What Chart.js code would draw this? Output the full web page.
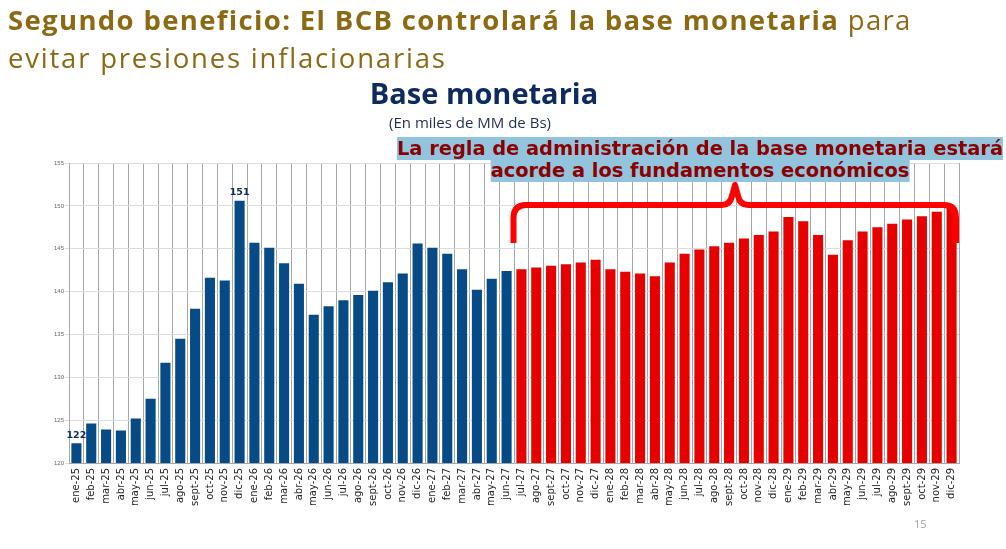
<!DOCTYPE html>
<html>
<head>
<meta charset="utf-8">
<script src="https://cdn.jsdelivr.net/npm/chart.js@4/dist/chart.umd.min.js"></script>
<style>
  html,body{margin:0;padding:0;background:#fff;}
  #wrap{position:relative;width:1006px;height:549px;overflow:hidden;background:#fff;}
  #cv{position:absolute;left:0;top:0;}
  .t{position:absolute;white-space:nowrap;}
  #h1{left:8px;top:0px;font-family:"Open Sans",sans-serif;font-size:27.5px;line-height:40px;letter-spacing:1.35px;color:#8c6a14;}
  #h1 b{font-weight:700;}
  #h2{left:8px;top:38px;font-family:"Open Sans",sans-serif;font-size:27.5px;line-height:40px;letter-spacing:1.8px;color:#8c6a14;}
  #ct{left:484px;top:73px;transform:translateX(-50%);font-family:"Open Sans",sans-serif;font-weight:700;font-size:29px;line-height:40px;color:#0d2b5e;}
  #cs{left:470px;top:112px;transform:translateX(-50%);font-family:"Open Sans",sans-serif;font-size:15px;line-height:20px;color:#1f2f4f;}
  .an{left:700px;transform:translateX(-50%);font-family:"DejaVu Sans",sans-serif;font-weight:700;font-size:19.4px;line-height:22px;color:#8b0000;}
  .an span{background:#92c4de;}
  #a1{top:138px;}
  #a2{top:160px;}
  #pg{left:914px;top:516px;font-family:"Open Sans",sans-serif;font-size:11px;color:#a0a0a0;}
  #br{position:absolute;left:0;top:0;pointer-events:none;}
</style>
</head>
<body>
<div id="wrap">
  <canvas id="cv" width="1006" height="549"></canvas>
  <div class="t" id="h1"><b>Segundo beneficio: El BCB controlará la base monetaria</b> para</div>
  <div class="t" id="h2">evitar presiones inflacionarias</div>
  <div class="t" id="ct">Base monetaria</div>
  <div class="t" id="cs">(En miles de MM de Bs)</div>
  <div class="t an" id="a1"><span>La regla de administración de la base monetaria estará</span></div>
  <div class="t an" id="a2"><span>acorde a los fundamentos económicos</span></div>
  <svg id="br" width="1006" height="549">
    <path d="M513.5,243 L513.5,218 Q513.5,205 526,205 L722,205 Q730,205 732,196 L735,185 L738,196 Q740,205 748,205 L944,205 Q956,205 956,218 L956,243"
          fill="none" stroke="#ff0000" stroke-width="6" stroke-linejoin="round"/>
  </svg>
  <div class="t" id="pg">15</div>
</div>
<script>
const categories = [
  "ene-25","feb-25","mar-25","abr-25","may-25","jun-25","jul-25","ago-25","sept-25","oct-25","nov-25","dic-25",
  "ene-26","feb-26","mar-26","abr-26","may-26","jun-26","jul-26","ago-26","sept-26","oct-26","nov-26","dic-26",
  "ene-27","feb-27","mar-27","abr-27","may-27","jun-27","jul-27","ago-27","sept-27","oct-27","nov-27","dic-27",
  "ene-28","feb-28","mar-28","abr-28","may-28","jun-28","jul-28","ago-28","sept-28","oct-28","nov-28","dic-28",
  "ene-29","feb-29","mar-29","abr-29","may-29","jun-29","jul-29","ago-29","sept-29","oct-29","nov-29","dic-29"
];
const baseMonetaria = [
  122.3,124.6,123.9,123.8,125.2,127.5,131.7,134.5,138.0,141.6,141.3,150.6,
  145.7,145.1,143.3,140.9,137.3,138.3,139.0,139.6,140.1,141.1,142.1,145.6,
  145.1,144.4,142.6,140.2,141.5,142.4,142.6,142.8,143.0,143.2,143.4,143.7,
  142.6,142.3,142.1,141.8,143.4,144.4,144.9,145.3,145.7,146.2,146.6,147.0,
  148.7,148.2,146.6,144.3,146.0,147.0,147.5,147.9,148.4,148.8,149.3,149.8
];
const firstProjected = "jul-27";
const labeledCategories = ["ene-25","dic-25"];
const yTicks = [120,125,130,135,140,145,150,155];

const projStart = categories.indexOf(firstProjected);
const barColors = categories.map((c,i)=> i < projStart ? "#064a86" : "#e60000");

const labelPlugin = {
  id:"valueLabels",
  afterDatasetsDraw(chart){
    const ctx = chart.ctx;
    const meta = chart.getDatasetMeta(0);
    ctx.save();
    ctx.font = "bold 9.5px 'DejaVu Sans'";
    ctx.fillStyle = "#0d2b5e";
    ctx.textAlign = "center";
    ctx.textBaseline = "bottom";
    labeledCategories.forEach(c=>{
      const i = categories.indexOf(c);
      const el = meta.data[i];
      ctx.fillText(String(Math.round(baseMonetaria[i])), el.x, el.y - 3);
    });
    ctx.restore();
  }
};

new Chart(document.getElementById("cv"), {
  type:"bar",
  data:{
    labels:categories,
    datasets:[{
      data:baseMonetaria,
      backgroundColor:barColors,
      borderWidth:0,
      barPercentage:0.68,
      categoryPercentage:1.0
    }]
  },
  options:{
    responsive:false,
    animation:false,
    devicePixelRatio:1,
    layout:{padding:{top:163,left:0,right:47,bottom:0}},
    plugins:{legend:{display:false},tooltip:{enabled:false},title:{display:false}},
    scales:{
      x:{
        afterFit:s=>{s.height=86;},
        grid:{display:true,offset:true,color:"#a6a6a6",lineWidth:1,drawTicks:false},
        border:{display:true,color:"#a6a6a6"},
        ticks:{autoSkip:false,minRotation:90,maxRotation:90,padding:5,
               font:{family:"DejaVu Sans",size:10},color:"#262626"}
      },
      y:{
        min:120,max:155,
        afterFit:s=>{s.width=69;},
        afterBuildTicks:s=>{s.ticks = yTicks.map(v=>({value:v}));},
        grid:{color:"#dcdcdc",lineWidth:1,tickLength:4},
        border:{display:true,color:"#a6a6a6"},
        ticks:{padding:1,font:{family:"Liberation Sans",size:6},color:"#666"}
      }
    }
  },
  plugins:[labelPlugin]
});
</script>
</body>
</html>
